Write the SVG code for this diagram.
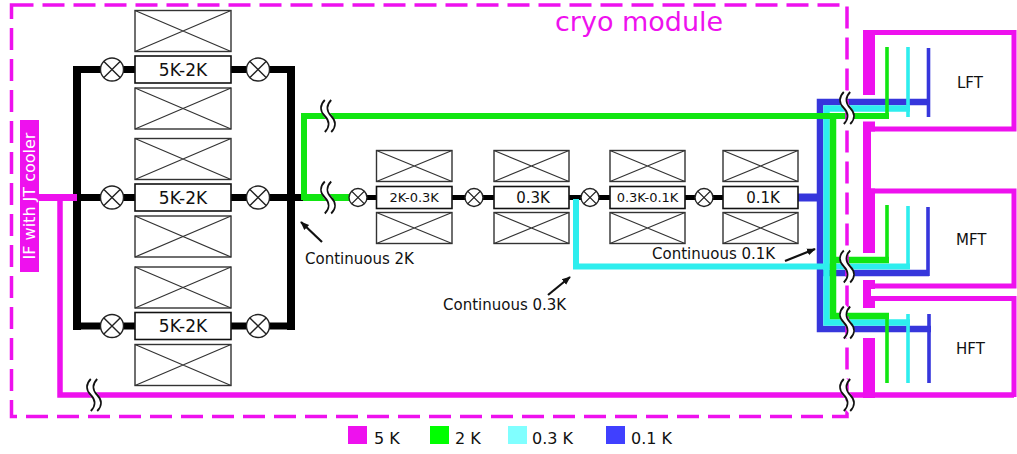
<svg xmlns="http://www.w3.org/2000/svg" width="1017" height="454" viewBox="0 0 1017 454">
<style>
text{font-family:"DejaVu Sans","Verdana",sans-serif;fill:#111}
.xb{fill:#fff;stroke:#333;stroke-width:1.4}
.xl{stroke:#333;stroke-width:1.2}
.lb{fill:#fff;stroke:#111;stroke-width:1.6}
.v{fill:#fff;stroke:#222;stroke-width:1.4}
.bk{fill:none;stroke:#000;stroke-linecap:butt}
.m{fill:none;stroke:#ee11ee}
.mf{fill:#ee11ee}
.g{fill:none;stroke:#11e611}
.c{fill:none;stroke:#2eeeee}
.b{fill:none;stroke:#3636dc}
.ar{stroke:#111;stroke-width:2.2;marker-end:url(#ah)}
</style>
<defs>
<marker id="ah" viewBox="0 0 10 10" refX="9" refY="5" markerWidth="4" markerHeight="4" orient="auto" markerUnits="strokeWidth">
<path d="M0,1 L10,5 L0,9 z" fill="#111"/>
</marker>
<g id="brk">
<path d="M0,-16 C-5,-11 -5,-5 0,0 C5,5 5,11 0,16" fill="none" stroke="#fff" stroke-width="7"/>
<path d="M-3.2,-16 C-8.2,-11 -8.2,-5 -3.2,0 C1.8,5 1.8,11 -3.2,16 M3.2,-16 C-1.8,-11 -1.8,-5 3.2,0 C8.2,5 8.2,11 3.2,16" fill="none" stroke="#111" stroke-width="1.8"/>
</g>
<g id="vx"><circle r="11.5" class="v"/><path d="M-8.1,-8.1 L8.1,8.1 M8.1,-8.1 L-8.1,8.1" stroke="#222" stroke-width="1.4"/></g>
<g id="vs"><circle r="9" class="v"/><path d="M-6.4,-6.4 L6.4,6.4 M6.4,-6.4 L-6.4,6.4" stroke="#222" stroke-width="1.3"/></g>
</defs>
<rect width="1017" height="454" fill="#fff"/>

<g id="connectors">
<!-- black 5K-2K network -->
<path class="bk" stroke-width="8" d="M77,66 V330 M291,66 V330"/>
<path class="bk" stroke-width="7" d="M73,69.5 H295 M73,197.5 H305 M73,326 H295"/>
<path class="bk" stroke-width="5" d="M350,197.5 H800"/>
<!-- 5K magenta -->
<path class="m" stroke-width="7" d="M39,197.5 H77"/>
<path class="m" stroke-width="5.5" d="M60,197 V395 H1014"/>
<!-- blue 0.1K -->
<path class="b" stroke-width="8" d="M798,197.5 H820"/>
<path class="b" stroke-width="6.5" d="M929,102 H820 V329 H931 M820,273 H929"/>
<path class="b" stroke-width="3.6" d="M928.5,48 V117 M928,207 V276 M929,314 V383"/>
<!-- cyan 0.3K -->
<path class="c" stroke-width="6.5" d="M910,108.5 H826.5 V322.5 H910"/>
<path class="c" stroke-width="6" d="M576,199 V266.5 H910"/>
<path class="c" stroke-width="3.6" d="M908,47 V117 M908,206 V268 M908,314 V383"/>
<!-- green 2K -->
<path class="g" stroke-width="7" d="M303,197.5 H350"/>
<path class="g" stroke-width="6" d="M304,200 V116 H889"/>
<path class="g" stroke-width="6.5" d="M833,116 V316 H889 M833,260 H889"/>
<path class="g" stroke-width="3.6" d="M887,47 V118 M887,205 V263 M887,314 V383"/>
<!-- arrows -->
<line class="ar" x1="322" y1="242" x2="301" y2="222"/>
<line class="ar" x1="548" y1="295" x2="570" y2="277"/>
<line class="ar" x1="785" y1="261" x2="815" y2="249"/>
</g>

<g id="cryo-module">
<rect x="11.5" y="5" width="835.5" height="411.5" fill="none" stroke="#ee11ee" stroke-width="3.5" stroke-dasharray="22 9"/>
<text x="555" y="31" font-size="27" style="fill:#ee11ee">cryo module</text>
</g>

<g id="if-jt-cooler">
<rect x="20" y="120" width="19" height="152" class="mf"/>
<text transform="translate(35.4,196) rotate(-90)" text-anchor="middle" font-size="16" style="fill:#fff">IF with JT cooler</text>
</g>

<g id="stage-5k2k-1">
<rect class="xb" x="135" y="10.5" width="96" height="41"/><path class="xl" d="M135,10.5 L231,51.5 M231,10.5 L135,51.5"/>
<rect class="lb" x="135" y="56" width="96" height="27"/>
<text x="183" y="75.7" font-size="17" text-anchor="middle">5K-2K</text>
<rect class="xb" x="135" y="88" width="96" height="41"/><path class="xl" d="M135,88 L231,129 M231,88 L135,129"/>
</g>
<g id="stage-5k2k-2">
<rect class="xb" x="135" y="138.5" width="96" height="41"/><path class="xl" d="M135,138.5 L231,179.5 M231,138.5 L135,179.5"/>
<rect class="lb" x="135" y="184" width="96" height="27"/>
<text x="183" y="203.7" font-size="17" text-anchor="middle">5K-2K</text>
<rect class="xb" x="135" y="216" width="96" height="41"/><path class="xl" d="M135,216 L231,257 M231,216 L135,257"/>
</g>
<g id="stage-5k2k-3">
<rect class="xb" x="135" y="267" width="96" height="41"/><path class="xl" d="M135,267 L231,308 M231,267 L135,308"/>
<rect class="lb" x="135" y="312.5" width="96" height="27"/>
<text x="183" y="332.2" font-size="17" text-anchor="middle">5K-2K</text>
<rect class="xb" x="135" y="344.5" width="96" height="41"/><path class="xl" d="M135,344.5 L231,385.5 M231,344.5 L135,385.5"/>
</g>

<g id="valves-5k2k">
<use href="#vx" x="112" y="69.5"/><use href="#vx" x="258" y="69.5"/>
<use href="#vx" x="112" y="197.5"/><use href="#vx" x="258" y="197.5"/>
<use href="#vx" x="112" y="326"/><use href="#vx" x="258" y="326"/>
</g>

<g id="stage-2k03k">
<rect class="xb" x="376.5" y="150.5" width="75.5" height="31"/><path class="xl" d="M376.5,150.5 L452,181.5 M452,150.5 L376.5,181.5"/>
<rect class="lb" x="376.5" y="186.5" width="75.5" height="22"/>
<text x="414.2" y="202.2" font-size="13" text-anchor="middle">2K-0.3K</text>
<rect class="xb" x="376.5" y="212.5" width="75.5" height="31"/><path class="xl" d="M376.5,212.5 L452,243.5 M452,212.5 L376.5,243.5"/>
</g>
<g id="stage-03k">
<rect class="xb" x="494" y="150.5" width="75" height="31"/><path class="xl" d="M494,150.5 L569,181.5 M569,150.5 L494,181.5"/>
<rect class="lb" x="494" y="186.5" width="75" height="22"/>
<text x="533" y="203" font-size="15" text-anchor="middle">0.3K</text>
<rect class="xb" x="494" y="212.5" width="75" height="31"/><path class="xl" d="M494,212.5 L569,243.5 M569,212.5 L494,243.5"/>
</g>
<g id="stage-03k01k">
<rect class="xb" x="610" y="150.5" width="75" height="31"/><path class="xl" d="M610,150.5 L685,181.5 M685,150.5 L610,181.5"/>
<rect class="lb" x="610" y="186.5" width="75" height="22"/>
<text x="647.5" y="202.2" font-size="13" text-anchor="middle">0.3K-0.1K</text>
<rect class="xb" x="610" y="212.5" width="75" height="31"/><path class="xl" d="M610,212.5 L685,243.5 M685,212.5 L610,243.5"/>
</g>
<g id="stage-01k">
<rect class="xb" x="723" y="150.5" width="75" height="31"/><path class="xl" d="M723,150.5 L798,181.5 M798,150.5 L723,181.5"/>
<rect class="lb" x="723" y="186.5" width="75" height="22"/>
<text x="763" y="203" font-size="15" text-anchor="middle">0.1K</text>
<rect class="xb" x="723" y="212.5" width="75" height="31"/><path class="xl" d="M723,212.5 L798,243.5 M798,212.5 L723,243.5"/>
</g>
<g id="valves-chain">
<use href="#vs" x="358" y="197.5"/><use href="#vs" x="474" y="197.5"/>
<use href="#vs" x="590" y="197.5"/><use href="#vs" x="704" y="197.5"/>
</g>

<g id="LFT">
<rect class="mf" x="863" y="30" width="12" height="65"/>
<rect class="mf" x="863" y="121.5" width="12" height="10"/>
<path class="m" stroke-width="5" d="M871,32.5 H1014 V129 H871"/>
<text x="957" y="88" font-size="15">LFT</text>
</g>
<rect id="link-lft-mft" class="mf" x="863" y="130" width="8" height="60"/>
<g id="MFT">
<rect class="mf" x="863" y="188.5" width="12" height="64.5"/>
<rect class="mf" x="863" y="280" width="12" height="9"/>
<path class="m" stroke-width="5" d="M871,191 H1014 V286 H871"/>
<text x="956" y="245" font-size="15">MFT</text>
</g>
<rect id="link-mft-hft" class="mf" x="863" y="287" width="8" height="10"/>
<g id="HFT">
<rect class="mf" x="863" y="296" width="12" height="12"/>
<rect class="mf" x="863" y="338" width="12" height="60"/>
<path class="m" stroke-width="5" d="M871,298.5 H1014 V397"/>
<text x="956" y="354" font-size="15">HFT</text>
</g>

<g id="breaks">
<use href="#brk" x="328" y="116"/>
<use href="#brk" x="328" y="197.5"/>
<use href="#brk" x="94" y="395"/>
<use href="#brk" x="847" y="108"/>
<use href="#brk" x="847" y="266.5"/>
<use href="#brk" x="847" y="322.5"/>
<use href="#brk" x="847" y="395"/>
</g>

<g id="labels">
<text x="305" y="264" font-size="15">Continuous 2K</text>
<text x="443" y="310" font-size="15">Continuous 0.3K</text>
<text x="652" y="259" font-size="15">Continuous 0.1K</text>
</g>

<g id="legend">
<rect x="348" y="426" width="19" height="18" fill="#ee11ee"/>
<text x="374" y="443.5" font-size="16">5 K</text>
<rect x="430" y="426" width="19" height="18" fill="#00ff00"/>
<text x="455" y="443.5" font-size="16">2 K</text>
<rect x="508" y="426" width="19" height="18" fill="#80ffff"/>
<text x="532" y="443.5" font-size="16">0.3 K</text>
<rect x="606" y="426" width="19" height="18" fill="#4040ff"/>
<text x="631" y="443.5" font-size="16">0.1 K</text>
</g>
</svg>
